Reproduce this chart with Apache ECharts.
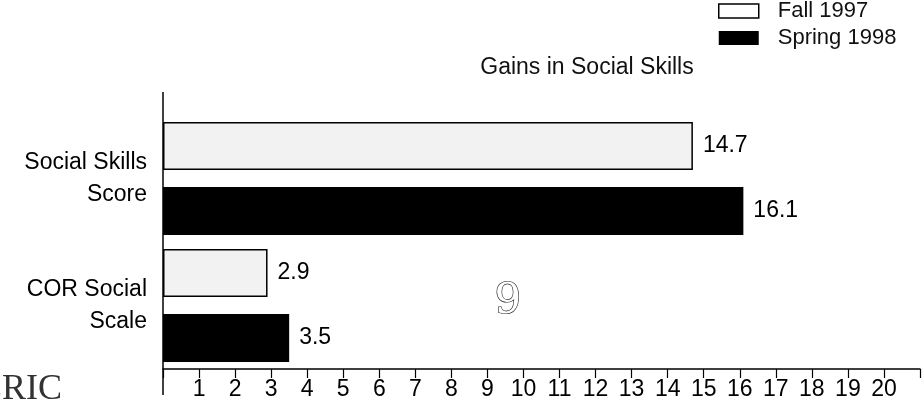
<!DOCTYPE html>
<html>
<head>
<meta charset="utf-8">
<script src="https://cdn.jsdelivr.net/npm/echarts@6/dist/echarts.min.js"></script>
<style>
  html, body { margin: 0; padding: 0; background: #fff; }
  #c1 { width: 923px; height: 409px; }
</style>
</head>
<body>
<div id="c1"></div>
<script>
// categories (top to bottom) and series values
var categories = ['Social Skills\nScore', 'COR Social\nScale']
var fall1997 = [14.7, 2.9]
var spring1998 = [16.1, 3.5]
var tickMax = 21 // axis runs a little past 20

var font = 'Arial, "Liberation Sans", sans-serif'

var myChart = echarts.init(document.getElementById('c1'))
var option = {
  animation: false,
  title: {
    text: 'Gains in Social Skills',
    left: 582,
    top: 51,
    textAlign: 'center',
    textStyle: { fontFamily: font, fontSize: 23, fontWeight: 'normal', color: '#111' }
  },
  legend: {
    orient: 'vertical',
    left: 718,
    top: 0,
    padding: 0,
    itemWidth: 40,
    itemHeight: 14,
    itemGap: 5,
    icon: 'rect',
    textStyle: { fontFamily: font, fontSize: 22, color: '#111', padding: [0, 0, 0, 14] },
    data: [
      { name: 'Fall 1997', itemStyle: { color: '#fff', borderColor: '#000', borderWidth: 1.5 } },
      { name: 'Spring 1998', itemStyle: { color: '#000' } }
    ]
  },
  grid: {
    left: 163,
    right: -4,
    top: 115,
    bottom: 40
  },
  xAxis: {
    type: 'value',
    min: 0,
    max: tickMax,
    interval: 1,
    splitLine: { show: false },
    axisLine: { show: true, lineStyle: { color: '#000', width: 1.5 } },
    axisTick: { show: true, length: 9, lineStyle: { color: '#000', width: 1.2 } },
    axisLabel: {
      margin: 9,
      fontFamily: font,
      fontSize: 23,
      color: '#000',
      formatter: function (v) { return (v === 0 || v >= 21) ? '' : v }
    }
  },
  yAxis: {
    type: 'category',
    inverse: true,
    data: categories,
    axisLine: { show: false },
    axisTick: { show: false },
    axisLabel: {
      margin: 16,
      fontFamily: font,
      fontSize: 23,
      lineHeight: 32,
      color: '#000',
      align: 'right'
    }
  },
  graphic: [
    // vertical axis line runs above and below the plot area
    { type: 'line', shape: { x1: 163, y1: 92, x2: 163, y2: 395 }, style: { stroke: '#000', lineWidth: 1.5 } },
    // page number printed on the scan
    { type: 'text', left: 494, top: 280, style: { text: '9', font: '42px "DejaVu Serif", serif', fill: '#fff', stroke: '#222', lineWidth: 1.2 } },
    // archive logo, cut off at the left edge
    { type: 'text', left: -20, top: 372, style: { text: 'ERIC', font: '36px "Liberation Serif", serif', fill: '#333' } }
  ],
  series: [
    {
      name: 'Fall 1997',
      type: 'bar',
      data: fall1997,
      barWidth: 48,
      barGap: '35%',
      itemStyle: { color: '#f2f2f2', borderColor: '#000', borderWidth: 1.5 },
      label: {
        show: true,
        position: 'right',
        distance: 10,
        fontFamily: font,
        fontSize: 23,
        color: '#000'
      }
    },
    {
      name: 'Spring 1998',
      type: 'bar',
      data: spring1998,
      barWidth: 48,
      itemStyle: { color: '#000' },
      label: {
        show: true,
        position: 'right',
        distance: 10,
        fontFamily: font,
        fontSize: 23,
        color: '#000'
      }
    }
  ]
}
option && myChart.setOption(option)
</script>
</body>
</html>
